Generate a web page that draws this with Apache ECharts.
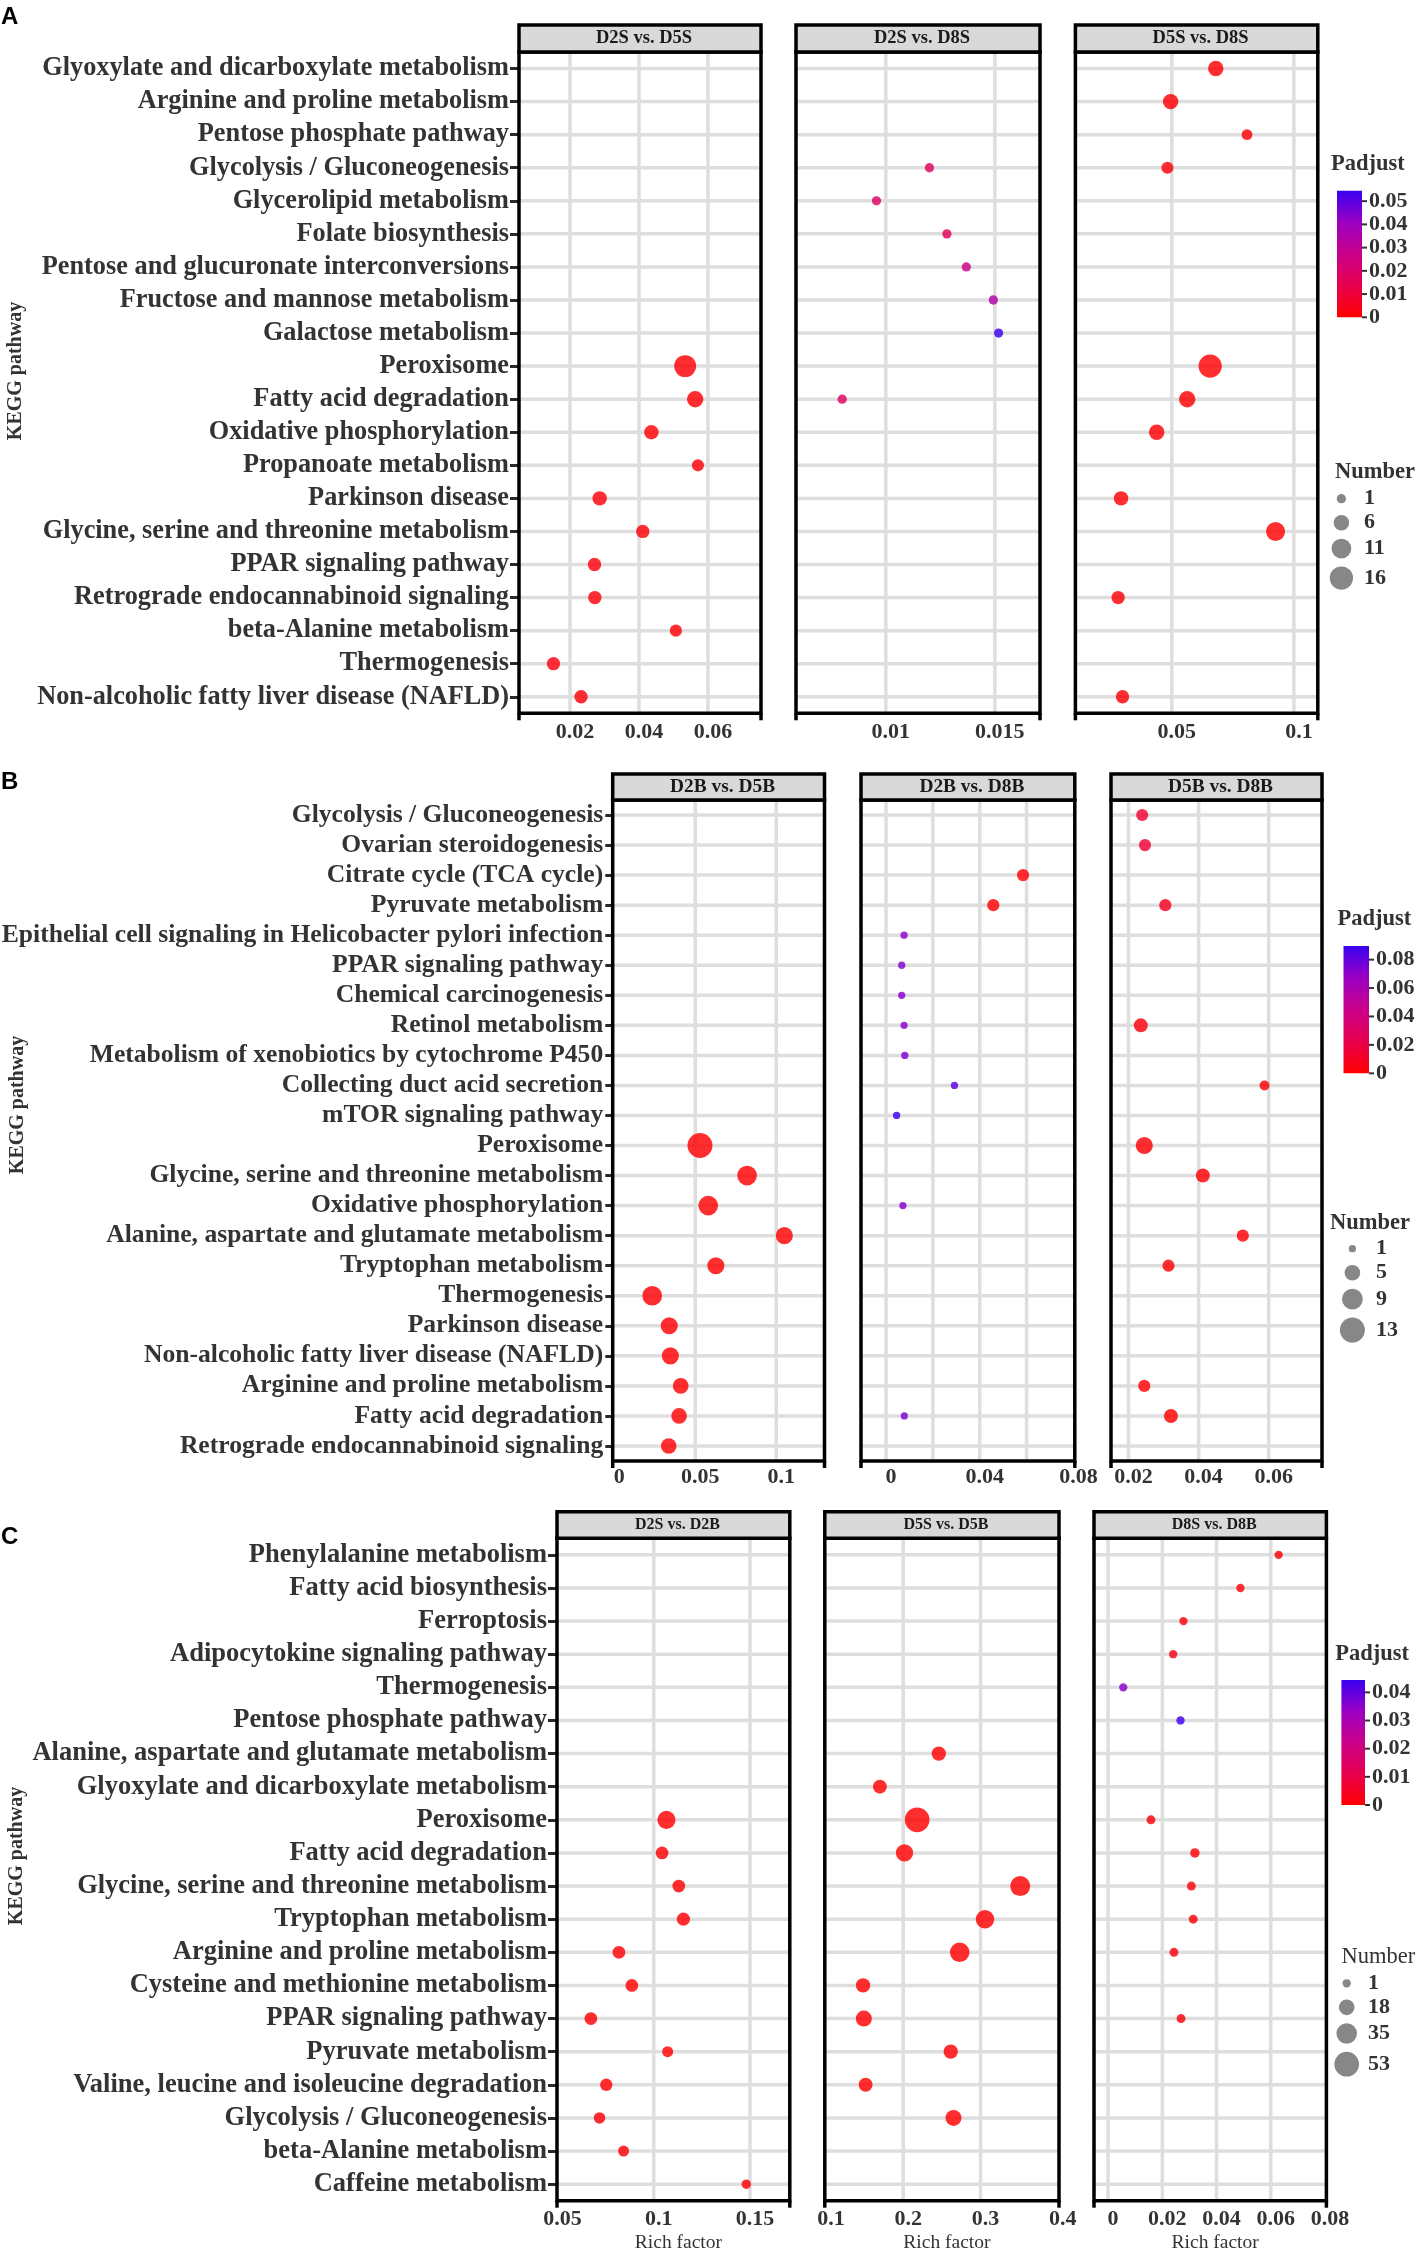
<!DOCTYPE html>
<html>
<head>
<meta charset="utf-8">
<script src="https://cdn.jsdelivr.net/npm/echarts/dist/echarts.min.js"></script>
<style>
html,body{margin:0;padding:0;background:#ffffff;}
#chart{width:1418px;height:2251px;}
</style>
</head>
<body>
<div id="chart"></div>
<script>
// ================= DATA =================
// Panel A pathways (top to bottom)
const catsA = ['Glyoxylate and dicarboxylate metabolism','Arginine and proline metabolism','Pentose phosphate pathway','Glycolysis / Gluconeogenesis','Glycerolipid metabolism','Folate biosynthesis','Pentose and glucuronate interconversions','Fructose and mannose metabolism','Galactose metabolism','Peroxisome','Fatty acid degradation','Oxidative phosphorylation','Propanoate metabolism','Parkinson disease','Glycine, serine and threonine metabolism','PPAR signaling pathway','Retrograde endocannabinoid signaling','beta-Alanine metabolism','Thermogenesis','Non-alcoholic fatty liver disease (NAFLD)'];
// rows: [pathway, rich factor, number, padjust]
const A_D2S_D5S = [
  ['Peroxisome',0.0534,14,0.0003],
  ['Fatty acid degradation',0.0563,7,0.0005],
  ['Oxidative phosphorylation',0.0436,5,0.0006],
  ['Propanoate metabolism',0.0571,3,0.0010],
  ['Parkinson disease',0.0286,5,0.0012],
  ['Glycine, serine and threonine metabolism',0.0411,4,0.0010],
  ['PPAR signaling pathway',0.0271,4,0.0015],
  ['Retrograde endocannabinoid signaling',0.0272,4,0.0015],
  ['beta-Alanine metabolism',0.0507,3,0.0012],
  ['Thermogenesis',0.0152,4,0.0020],
  ['Non-alcoholic fatty liver disease (NAFLD)',0.0232,4,0.0018]
];
const A_D2S_D8S = [
  ['Glycolysis / Gluconeogenesis',0.0120,1,0.017],
  ['Glycerolipid metabolism',0.00957,1,0.018],
  ['Folate biosynthesis',0.0128,1,0.017],
  ['Pentose and glucuronate interconversions',0.01369,1,0.027],
  ['Fructose and mannose metabolism',0.01493,1,0.034],
  ['Galactose metabolism',0.01517,1,0.0545],
  ['Fatty acid degradation',0.0080,1,0.018]
];
const A_D5S_D8S = [
  ['Glyoxylate and dicarboxylate metabolism',0.068,6,0.0004],
  ['Arginine and proline metabolism',0.0495,6,0.0005],
  ['Pentose phosphate pathway',0.0808,2,0.0010],
  ['Glycolysis / Gluconeogenesis',0.0482,3,0.0010],
  ['Peroxisome',0.0657,16,0.0001],
  ['Fatty acid degradation',0.0563,7,0.0003],
  ['Oxidative phosphorylation',0.0438,6,0.0004],
  ['Parkinson disease',0.0292,5,0.0008],
  ['Glycine, serine and threonine metabolism',0.0925,10,0.0001],
  ['Retrograde endocannabinoid signaling',0.028,4,0.0010],
  ['Non-alcoholic fatty liver disease (NAFLD)',0.0298,4,0.0010]
];

// Panel B pathways
const catsB = ['Glycolysis / Gluconeogenesis','Ovarian steroidogenesis','Citrate cycle (TCA cycle)','Pyruvate metabolism','Epithelial cell signaling in Helicobacter pylori infection','PPAR signaling pathway','Chemical carcinogenesis','Retinol metabolism','Metabolism of xenobiotics by cytochrome P450','Collecting duct acid secretion','mTOR signaling pathway','Peroxisome','Glycine, serine and threonine metabolism','Oxidative phosphorylation','Alanine, aspartate and glutamate metabolism','Tryptophan metabolism','Thermogenesis','Parkinson disease','Non-alcoholic fatty liver disease (NAFLD)','Arginine and proline metabolism','Fatty acid degradation','Retrograde endocannabinoid signaling'];
const B_D2B_D5B = [
  ['Peroxisome',0.0529,13,0.0002],
  ['Glycine, serine and threonine metabolism',0.082,8,0.0003],
  ['Oxidative phosphorylation',0.058,8,0.0003],
  ['Alanine, aspartate and glutamate metabolism',0.105,6,0.0003],
  ['Tryptophan metabolism',0.0627,6,0.0004],
  ['Thermogenesis',0.0234,8,0.0008],
  ['Parkinson disease',0.0339,6,0.0008],
  ['Non-alcoholic fatty liver disease (NAFLD)',0.0346,6,0.0008],
  ['Arginine and proline metabolism',0.041,5,0.0010],
  ['Fatty acid degradation',0.040,5,0.0010],
  ['Retrograde endocannabinoid signaling',0.0336,5,0.0012]
];
const B_D2B_D8B = [
  ['Citrate cycle (TCA cycle)',0.0585,3,0.0010],
  ['Pyruvate metabolism',0.0458,3,0.0010],
  ['Epithelial cell signaling in Helicobacter pylori infection',0.0077,1,0.071],
  ['PPAR signaling pathway',0.0067,1,0.072],
  ['Chemical carcinogenesis',0.0067,1,0.072],
  ['Retinol metabolism',0.0077,1,0.071],
  ['Metabolism of xenobiotics by cytochrome P450',0.0080,1,0.074],
  ['Collecting duct acid secretion',0.0292,1,0.082],
  ['mTOR signaling pathway',0.0045,1,0.0896],
  ['Oxidative phosphorylation',0.0072,1,0.072],
  ['Fatty acid degradation',0.0078,1,0.073]
];
const B_D5B_D8B = [
  ['Glycolysis / Gluconeogenesis',0.0239,3,0.014],
  ['Ovarian steroidogenesis',0.0247,3,0.015],
  ['Pyruvate metabolism',0.0305,3,0.009],
  ['Retinol metabolism',0.0235,4,0.003],
  ['Collecting duct acid secretion',0.0588,2,0.001],
  ['Peroxisome',0.0245,6,0.0005],
  ['Glycine, serine and threonine metabolism',0.0412,4,0.0008],
  ['Alanine, aspartate and glutamate metabolism',0.0526,3,0.001],
  ['Tryptophan metabolism',0.0314,3,0.001],
  ['Arginine and proline metabolism',0.0245,3,0.001],
  ['Fatty acid degradation',0.0321,4,0.0008]
];

// Panel C pathways
const catsC = ['Phenylalanine metabolism','Fatty acid biosynthesis','Ferroptosis','Adipocytokine signaling pathway','Thermogenesis','Pentose phosphate pathway','Alanine, aspartate and glutamate metabolism','Glyoxylate and dicarboxylate metabolism','Peroxisome','Fatty acid degradation','Glycine, serine and threonine metabolism','Tryptophan metabolism','Arginine and proline metabolism','Cysteine and methionine metabolism','PPAR signaling pathway','Pyruvate metabolism','Valine, leucine and isoleucine degradation','Glycolysis / Gluconeogenesis','beta-Alanine metabolism','Caffeine metabolism'];
const C_D2S_D2B = [
  ['Peroxisome',0.1066,26,0.0001],
  ['Fatty acid degradation',0.1043,10,0.0003],
  ['Glycine, serine and threonine metabolism',0.113,10,0.0003],
  ['Tryptophan metabolism',0.1154,11,0.0003],
  ['Arginine and proline metabolism',0.0819,10,0.0005],
  ['Cysteine and methionine metabolism',0.0886,10,0.0005],
  ['PPAR signaling pathway',0.0673,10,0.0006],
  ['Pyruvate metabolism',0.1072,6,0.0006],
  ['Valine, leucine and isoleucine degradation',0.0753,9,0.0006],
  ['Glycolysis / Gluconeogenesis',0.0718,7,0.0008],
  ['beta-Alanine metabolism',0.0843,6,0.0008],
  ['Caffeine metabolism',0.1481,3,0.0010]
];
const C_D5S_D5B = [
  ['Alanine, aspartate and glutamate metabolism',0.246,14,0.0001],
  ['Glyoxylate and dicarboxylate metabolism',0.1698,13,0.0002],
  ['Peroxisome',0.218,53,0.0000],
  ['Fatty acid degradation',0.2016,23,0.0001],
  ['Glycine, serine and threonine metabolism',0.3513,33,0.0000],
  ['Tryptophan metabolism',0.3058,27,0.0000],
  ['Arginine and proline metabolism',0.273,31,0.0000],
  ['Cysteine and methionine metabolism',0.148,14,0.0002],
  ['PPAR signaling pathway',0.149,19,0.0002],
  ['Pyruvate metabolism',0.2614,14,0.0001],
  ['Valine, leucine and isoleucine degradation',0.1513,13,0.0002],
  ['Glycolysis / Gluconeogenesis',0.265,19,0.0001]
];
const C_D8S_D8B = [
  ['Phenylalanine metabolism',0.0629,1,0.0010],
  ['Fatty acid biosynthesis',0.0488,1,0.0012],
  ['Ferroptosis',0.0278,1,0.0015],
  ['Adipocytokine signaling pathway',0.024,1,0.0025],
  ['Thermogenesis',0.0056,1,0.035],
  ['Pentose phosphate pathway',0.0267,1,0.0444],
  ['Peroxisome',0.0158,2,0.0008],
  ['Fatty acid degradation',0.032,3,0.0008],
  ['Glycine, serine and threonine metabolism',0.0307,2,0.0010],
  ['Tryptophan metabolism',0.0314,2,0.0010],
  ['Arginine and proline metabolism',0.0243,2,0.0012],
  ['PPAR signaling pathway',0.0269,2,0.0012]
];

// Axis ticks (rich factor)
const ticksA1 = [0.02,0.04,0.06];
const ticksA2 = [0.01,0.015];
const ticksA3 = [0.05,0.1];
const ticksB1 = [0,0.05,0.1];
const ticksB2 = [0,0.02,0.04,0.06,0.08];
const labelsB2 = [0,0.04,0.08];
const ticksB3 = [0.02,0.04,0.06];
const ticksC1 = [0.05,0.1,0.15];
const ticksC2 = [0.1,0.2,0.3,0.4];
const ticksC3 = [0,0.02,0.04,0.06,0.08];

// Legends
const padjTicksA = [0,0.01,0.02,0.03,0.04,0.05];
const padjTicksB = [0,0.02,0.04,0.06,0.08];
const padjTicksC = [0,0.01,0.02,0.03,0.04];
const padjMaxA = 0.0545, padjMaxB = 0.0896, padjMaxC = 0.0444;
const numBreaksA = [1,6,11,16];
const numBreaksB = [1,5,9,13];
const numBreaksC = [1,18,35,53];

const stripA = ['D2S vs. D5S','D2S vs. D8S','D5S vs. D8S'];
const stripB = ['D2B vs. D5B','D2B vs. D8B','D5B vs. D8B'];
const stripC = ['D2S vs. D2B','D5S vs. D5B','D8S vs. D8B'];

// ================= STYLE / LAYOUT =================
const SERIF = '"Liberation Serif","Times New Roman",Times,serif';
const SANS = '"Liberation Sans",Arial,Helvetica,sans-serif';
const TXT = '#333333';
const GRID_COLOR = '#dedede';
const STOPS = ['#ff0000','#e8004f','#ca0089','#9a00c3','#3a00f0'];

function sizeA(n){ return Math.sqrt(86.5 + 30.4*(n-1)); }
function sizeB(n){ return Math.sqrt(53 + 47.7*(n-1)); }
function sizeC(n){ return Math.sqrt(69 + 10.4*(n-1)); }

const panels = [
  { cats:catsA, top:52, bottom:713.3, stripH:27, catFont:26.3, labelMargin:10, tickDy:18.7, stripFont:18.5,
    size:sizeA, padjMax:padjMaxA, padjTicks:padjTicksA, numBreaks:numBreaksA, xTitle:false,
    facets:[
      {title:stripA[0], rows:A_D2S_D5S, left:519, right:761, min:0.0052, max:0.0754, ticks:ticksA1, labels:ticksA1},
      {title:stripA[1], rows:A_D2S_D8S, left:796, right:1040, min:0.00588, max:0.01707, ticks:ticksA2, labels:ticksA2},
      {title:stripA[2], rows:A_D5S_D8S, left:1075.4, right:1317.8, min:0.0105, max:0.1098, ticks:ticksA3, labels:ticksA3}
    ],
    lg:{padjTitle:[1331,164], bar:[1337,190.7,25,126.6], barLabelX:1369, numTitle:[1335,472], numBold:true, numX:1341.4, numY0:498.7, numLabelX:1364},
    letter:['A',1,17], kegg:[16,371] },
  { cats:catsB, top:800, bottom:1461, stripH:26, catFont:25.6, labelMargin:9.5, tickDy:16, stripFont:19.4,
    size:sizeB, padjMax:padjMaxB, padjTicks:padjTicksB, numBreaks:numBreaksB, xTitle:false,
    facets:[
      {title:stripB[0], rows:B_D2B_D5B, left:612.7, right:824.5, min:-0.001, max:0.1298, ticks:ticksB1, labels:ticksB1},
      {title:stripB[1], rows:B_D2B_D8B, left:861, right:1074.8, min:-0.0107, max:0.0806, ticks:ticksB2, labels:labelsB2},
      {title:stripB[2], rows:B_D5B_D8B, left:1111, right:1322, min:0.015, max:0.0752, ticks:ticksB3, labels:ticksB3}
    ],
    lg:{padjTitle:[1337.6,919.3], bar:[1343.5,946,25.5,127.3], barLabelX:1376, numTitle:[1330,1223], numBold:true, numX:1352.4, numY0:1248.7, numLabelX:1376},
    letter:['B',1,782], kegg:[18,1105] },
  { cats:catsC, top:1538.3, bottom:2200.7, stripH:26.6, catFont:26.5, labelMargin:10, tickDy:18.3, stripFont:16,
    size:sizeC, padjMax:padjMaxC, padjTicks:padjTicksC, numBreaks:numBreaksC, xTitle:true,
    facets:[
      {title:stripC[0], rows:C_D2S_D2B, left:557, right:789.8, min:0.0497, max:0.1707, ticks:ticksC1, labels:ticksC1},
      {title:stripC[1], rows:C_D5S_D5B, left:824.8, right:1059, min:0.0985, max:0.4015, ticks:ticksC2, labels:ticksC2},
      {title:stripC[2], rows:C_D8S_D8B, left:1094, right:1326.4, min:-0.0052, max:0.0805, ticks:ticksC3, labels:ticksC3}
    ],
    lg:{padjTitle:[1335.3,1654], bar:[1341.4,1680,23.6,125], barLabelX:1372, numTitle:[1341.4,1956.7], numBold:false, numX:1346.7, numY0:1983.3, numLabelX:1368},
    letter:['C',1,1537], kegg:[16.6,1856] }
];

function makeBg(P, F){
  return function(params, api){
    const cs = params.coordSys;
    const L = cs.x, T = cs.y, W = cs.width, H = cs.height, R = L + W, B = T + H;
    const ch = [];
    for (let i = 0; i < P.cats.length; i++) {
      const y = api.coord([F.min, i])[1];
      ch.push({type:'line', shape:{x1:L, y1:y, x2:R, y2:y}, style:{stroke:GRID_COLOR, lineWidth:3.5}});
    }
    F.ticks.forEach(function(t){
      const x = api.coord([t, 0])[0];
      if (x > L + 2 && x < R - 2) {
        ch.push({type:'line', shape:{x1:x, y1:T, x2:x, y2:B}, style:{stroke:GRID_COLOR, lineWidth:3.5}});
      }
      if (F.labels.indexOf(t) >= 0) {
        ch.push({type:'text', x:x + 5, y:B + P.tickDy,
          style:{text:String(t), fontSize:22, fontWeight:'bold', fontFamily:SERIF, fill:TXT, align:'center', verticalAlign:'middle'}});
      }
    });
    ch.push({type:'rect', shape:{x:L, y:T, width:W, height:H}, style:{fill:'none', stroke:'#000', lineWidth:3.5}});
    ch.push({type:'line', shape:{x1:L, y1:B, x2:L, y2:B + 7}, style:{stroke:'#000', lineWidth:3.5}});
    ch.push({type:'line', shape:{x1:R, y1:B, x2:R, y2:B + 7}, style:{stroke:'#000', lineWidth:3.5}});
    ch.push({type:'rect', shape:{x:L, y:T - P.stripH, width:W, height:P.stripH}, style:{fill:'#d9d9d9', stroke:'#000', lineWidth:3.5}});
    ch.push({type:'text', x:L + W/2 + 4, y:T - P.stripH/2,
      style:{text:F.title, fontSize:P.stripFont, fontWeight:'bold', fontFamily:SERIF, fill:'#1a1a1a', align:'center', verticalAlign:'middle'}});
    if (P.xTitle) {
      ch.push({type:'text', x:L + W/2 + 5, y:B + 42.6,
        style:{text:'Rich factor', fontSize:19.5, fontWeight:'normal', fontFamily:SERIF, fill:TXT, align:'center', verticalAlign:'middle'}});
    }
    return {type:'group', children:ch};
  };
}

function txt(text, x, y, size, o){
  o = o || {};
  return {type:'text', x:x, y:y, rotation:o.rot || 0, z:10,
    style:{text:text, fontSize:size, fontWeight:o.weight || 'bold', fontFamily:o.family || SERIF,
      fill:o.fill || TXT, align:o.align || 'left', verticalAlign:'middle'}};
}

const option = {animation:false, backgroundColor:'#ffffff', grid:[], xAxis:[], yAxis:[], series:[], visualMap:[], graphic:{elements:[]}};
const G = option.graphic.elements;
let k = 0;
panels.forEach(function(P){
  const scatterIdx = [];
  P.facets.forEach(function(F, fi){
    const first = fi === 0;
    option.grid.push({left:F.left, top:P.top, width:F.right - F.left, height:P.bottom - P.top, show:false, containLabel:false, outerBoundsMode:'none'});
    option.xAxis.push({type:'value', gridIndex:k, min:F.min, max:F.max, show:false, scale:true});
    option.yAxis.push({type:'category', gridIndex:k, data:P.cats, inverse:true, boundaryGap:true, show:first,
      axisLine:{show:false}, splitLine:{show:false},
      axisTick:{show:first, alignWithLabel:true, length:9, lineStyle:{color:'#2a2a2a', width:3}},
      axisLabel:{show:first, interval:0, margin:P.labelMargin, fontSize:P.catFont, fontWeight:'bold', fontFamily:SERIF, color:TXT}});
    option.series.push({type:'custom', xAxisIndex:k, yAxisIndex:k, silent:true, z:1, clip:false,
      data:[[F.min, 0]], renderItem:makeBg(P, F)});
    scatterIdx.push(option.series.length);
    option.series.push({type:'scatter', xAxisIndex:k, yAxisIndex:k, z:3, symbol:'circle',
      data:F.rows.map(function(r){ return [r[1], P.cats.indexOf(r[0]), r[2], r[3]]; }),
      encode:{x:0, y:1},
      symbolSize:function(v){ return P.size(v[2]); },
      itemStyle:{opacity:0.82}});
    k++;
  });
  option.visualMap.push({type:'continuous', show:false, min:0, max:P.padjMax, dimension:3,
    seriesIndex:scatterIdx, inRange:{color:STOPS}});

  // ---- legends ----
  const lg = P.lg;
  G.push(txt('Padjust', lg.padjTitle[0], lg.padjTitle[1], 22.5));
  const bx = lg.bar[0], by = lg.bar[1], bw = lg.bar[2], bh = lg.bar[3];
  G.push({type:'rect', shape:{x:bx, y:by, width:bw, height:bh}, z:10,
    style:{fill:new echarts.graphic.LinearGradient(0, 1, 0, 0,
      STOPS.map(function(c, i){ return {offset:i/(STOPS.length - 1), color:c}; }))}});
  P.padjTicks.forEach(function(v){
    const y = by + bh - v / P.padjMax * bh;
    G.push({type:'line', shape:{x1:bx + bw, y1:y, x2:bx + bw + 5, y2:y}, z:10, style:{stroke:'#333', lineWidth:2}});
    G.push(txt(String(v), lg.barLabelX, y, 22));
  });
  G.push(txt('Number', lg.numTitle[0], lg.numTitle[1], 22.5, {weight:lg.numBold ? 'bold' : 'normal'}));
  let y = lg.numY0, prevH = null;
  P.numBreaks.forEach(function(n){
    const d = P.size(n);
    const h = Math.max(24, d + 8);
    if (prevH !== null) y += (prevH + h) / 2;
    prevH = h;
    G.push({type:'circle', shape:{cx:lg.numX, cy:y, r:d/2}, z:10, style:{fill:'#878787'}});
    G.push(txt(String(n), lg.numLabelX, y, 22));
  });
  // panel letter and y title
  G.push(txt(P.letter[0], P.letter[1], P.letter[2], 24, {family:SANS, fill:'#000'}));
  G.push(txt('KEGG pathway', P.kegg[0], P.kegg[1], 20, {rot:Math.PI/2, align:'center'}));
});

const chart = echarts.init(document.getElementById('chart'), null, {renderer:'canvas', width:1418, height:2251});
chart.setOption(option);
</script>
</body>
</html>
